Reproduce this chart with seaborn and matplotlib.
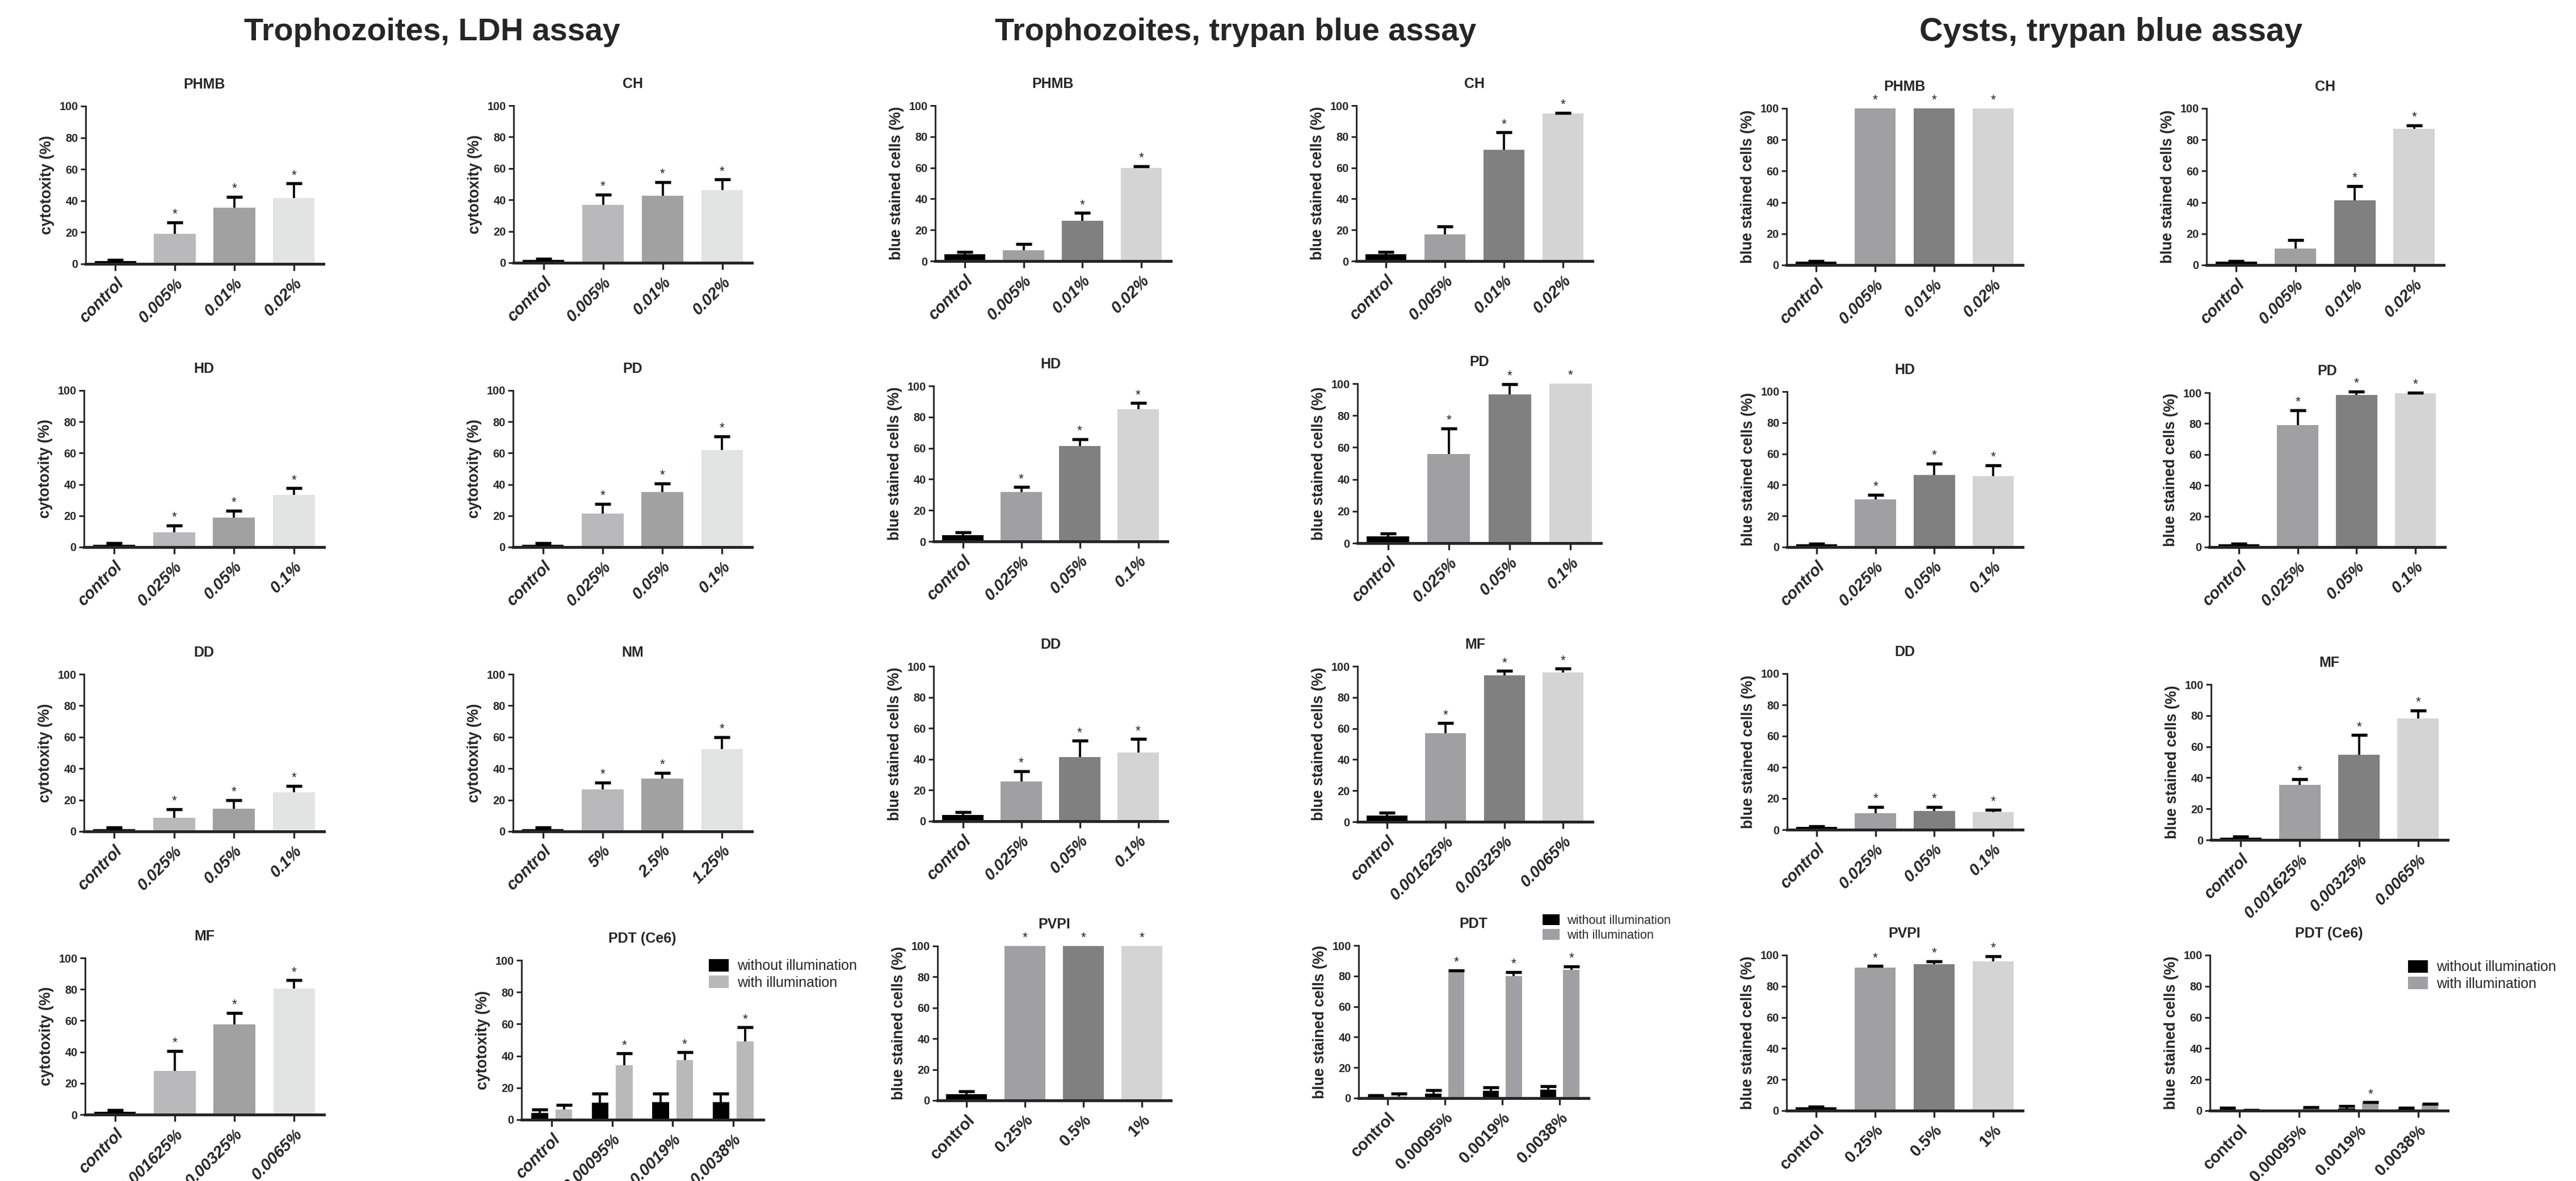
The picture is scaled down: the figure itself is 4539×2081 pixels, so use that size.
import pandas as pd
import matplotlib
matplotlib.use('Agg')
import matplotlib.pyplot as plt
import seaborn as sns
from matplotlib.patches import Patch

# ---------------- data (mean, SD, significance) ----------------
conc_ch = ['control', '0.005%', '0.01%', '0.02%']
conc_diamidine = ['control', '0.025%', '0.05%', '0.1%']
conc_nm = ['control', '5%', '2.5%', '1.25%']
conc_mf = ['control', '0.001625%', '0.00325%', '0.0065%']
conc_pdt = ['control', '0.00095%', '0.0019%', '0.0038%']
conc_pvpi = ['control', '0.25%', '0.5%', '1%']

# Trophozoites, LDH assay
ldh_phmb_mean = [1.7, 19.0, 35.5, 41.9]
ldh_phmb_sd = [0.9, 7.3, 7.0, 9.0]
ldh_phmb_star = [0, 1, 1, 1]
ldh_ch_mean = [1.7, 36.7, 42.7, 46.2]
ldh_ch_sd = [0.9, 6.7, 8.7, 6.8]
ldh_ch_star = [0, 1, 1, 1]
ldh_hd_mean = [1.5, 9.5, 18.9, 33.5]
ldh_hd_sd = [1.0, 4.4, 4.4, 4.1]
ldh_hd_star = [0, 1, 1, 1]
ldh_pd_mean = [1.5, 21.5, 35.3, 62.1]
ldh_pd_sd = [1.0, 6.2, 5.3, 8.6]
ldh_pd_star = [0, 1, 1, 1]
ldh_dd_mean = [1.5, 8.8, 14.5, 24.9]
ldh_dd_sd = [1.0, 5.3, 5.4, 4.0]
ldh_dd_star = [0, 1, 1, 1]
ldh_nm_mean = [1.5, 26.6, 33.5, 52.2]
ldh_nm_sd = [1.0, 4.6, 3.7, 7.8]
ldh_nm_star = [0, 1, 1, 1]
ldh_mf_mean = [1.8, 28.0, 57.6, 80.4]
ldh_mf_sd = [1.0, 12.6, 7.4, 5.4]
ldh_mf_star = [0, 1, 1, 1]
ldh_pdt_dark_mean = [4.4, 10.6, 11.0, 11.2]
ldh_pdt_dark_sd = [2.1, 5.6, 5.2, 5.3]
ldh_pdt_light_mean = [6.5, 34.2, 37.4, 49.2]
ldh_pdt_light_sd = [2.6, 7.4, 4.9, 8.7]
ldh_pdt_star = [0, 1, 1, 1]

# Trophozoites, trypan blue assay
tro_phmb_mean = [4.2, 7.1, 26.0, 59.7]
tro_phmb_sd = [1.6, 3.9, 4.9, 1.3]
tro_phmb_star = [0, 0, 1, 1]
tro_ch_mean = [4.2, 17.2, 71.4, 94.8]
tro_ch_sd = [1.6, 5.2, 11.3, 0.6]
tro_ch_star = [0, 0, 1, 1]
tro_hd_mean = [4.0, 31.9, 61.2, 84.9]
tro_hd_sd = [1.8, 3.0, 4.6, 4.1]
tro_hd_star = [0, 1, 1, 1]
tro_pd_mean = [4.3, 55.7, 93.2, 100.0]
tro_pd_sd = [1.6, 16.3, 6.6, 0.0]
tro_pd_star = [0, 1, 1, 1]
tro_dd_mean = [4.0, 25.7, 41.4, 44.4]
tro_dd_sd = [1.8, 6.5, 10.5, 8.6]
tro_dd_star = [0, 1, 1, 1]
tro_mf_mean = [4.0, 57.1, 94.2, 96.0]
tro_mf_sd = [1.8, 6.3, 2.8, 2.4]
tro_mf_star = [0, 1, 1, 1]
tro_pvpi_mean = [3.9, 100.0, 100.0, 100.0]
tro_pvpi_sd = [1.8, 0.0, 0.0, 0.0]
tro_pvpi_star = [0, 1, 1, 1]
tro_pdt_dark_mean = [1.0, 2.8, 4.7, 5.6]
tro_pdt_dark_sd = [1.0, 2.5, 2.2, 2.2]
tro_pdt_light_mean = [1.2, 82.5, 80.0, 84.1]
tro_pdt_light_sd = [1.6, 1.2, 2.7, 2.3]
tro_pdt_star = [0, 1, 1, 1]

# Cysts, trypan blue assay
cys_phmb_mean = [2.2, 100.0, 100.0, 100.0]
cys_phmb_sd = [0.4, 0.0, 0.0, 0.0]
cys_phmb_star = [0, 1, 1, 1]
cys_ch_mean = [2.2, 10.4, 41.3, 86.8]
cys_ch_sd = [0.4, 5.4, 9.2, 2.4]
cys_ch_star = [0, 0, 1, 1]
cys_hd_mean = [1.8, 30.7, 46.5, 45.6]
cys_hd_sd = [0.5, 3.0, 7.2, 7.0]
cys_hd_star = [0, 1, 1, 1]
cys_pd_mean = [1.8, 79.1, 98.6, 99.5]
cys_pd_sd = [0.5, 9.6, 2.3, 0.5]
cys_pd_star = [0, 1, 1, 1]
cys_dd_mean = [1.8, 10.7, 11.9, 11.4]
cys_dd_sd = [0.5, 4.0, 2.8, 1.4]
cys_dd_star = [0, 1, 1, 1]
cys_mf_mean = [1.6, 35.3, 54.9, 78.1]
cys_mf_sd = [0.5, 3.8, 12.5, 5.2]
cys_mf_star = [0, 1, 1, 1]
cys_pvpi_mean = [2.2, 91.8, 94.2, 96.1]
cys_pvpi_sd = [0.3, 1.2, 1.9, 3.3]
cys_pvpi_star = [0, 1, 1, 1]
cys_pdt_dark_mean = [0.9, 0.0, 1.5, 1.1]
cys_pdt_dark_sd = [0.9, 0.0, 1.4, 0.9]
cys_pdt_light_mean = [0.3, 1.5, 4.8, 3.9]
cys_pdt_light_sd = [0.2, 0.8, 0.6, 0.6]
cys_pdt_star = [0, 0, 1, 0]

legend_labels = ['without illumination', 'with illumination']

# ---------------- style ----------------
ldh_palette = ['#000000', '#b9b9bb', '#a1a1a1', '#e2e3e3']
tb_palette = ['#000000', '#9f9fa3', '#808080', '#d4d4d4']
ldh_gray = '#b9b9b9'
tb_gray = '#a0a0a4'

W, H = 4539, 2081
sns.set_style('ticks')
plt.rcParams['font.family'] = ['Liberation Sans', 'DejaVu Sans']

fig = plt.figure(figsize=(W / 300, H / 300), dpi=300)


def new_axes(left, top, right, bottom):
    # pixel box -> figure fraction
    return fig.add_axes([left / W, 1 - bottom / H, (right - left) / W, (bottom - top) / H])


def add_errors(ax, bars, mean, sd, star):
    for bar, m, s, st in zip(bars, mean, sd, star):
        xc = bar.get_x() + bar.get_width() / 2
        if s > 0:
            eb = ax.errorbar(xc, m, yerr=[[0], [s]], fmt='none', ecolor='black',
                             elinewidth=0.9, capsize=3.3, capthick=1.3, clip_on=False)
            eb[1][0].set_visible(False)
        if st:
            ax.annotate('*', (xc, m + s), xytext=(0, 0.5), textcoords='offset points',
                        ha='center', va='bottom', fontsize=5.5, annotation_clip=False)


def style_axes(ax, title, labels, ylabel, italic):
    sns.despine(ax=ax)
    ax.set_ylim(0, 100)
    ax.set_xlim(-0.5, 3.5)
    ax.set_yticks(range(0, 101, 20))
    ax.set_yticklabels([str(v) for v in range(0, 101, 20)], fontsize=4.8, fontweight='bold')
    ax.set_xticks(range(len(labels)))
    ax.set_xticklabels(labels, rotation=45, ha='right', va='top', rotation_mode='anchor',
                       fontsize=6.9, fontweight='bold',
                       fontstyle='italic' if italic else 'normal')
    ax.tick_params(axis='y', length=2.2, width=0.7, pad=1)
    ax.tick_params(axis='x', length=2.8, width=0.8, pad=2)
    ax.spines['left'].set_linewidth(0.7)
    ax.spines['bottom'].set_linewidth(1.2)
    ax.set_xlabel('')
    ax.set_ylabel(ylabel, fontsize=6.4, fontweight='bold', labelpad=2)
    ax.set_title(title, fontsize=6, fontweight='bold', pad=7.5)


def draw_panel(box, title, labels, mean, sd, star, palette, ylabel, italic=True):
    ax = new_axes(*box)
    df = pd.DataFrame({'conc': labels, 'value': mean})
    sns.barplot(data=df, x='conc', y='value', hue='conc', palette=palette, width=0.7,
                errorbar=None, legend=False, linewidth=0, ax=ax)
    bars = sorted(ax.patches, key=lambda p: p.get_x())
    add_errors(ax, bars, mean, sd, star)
    style_axes(ax, title, labels, ylabel, italic)
    return ax


def draw_pdt(box, title, labels, dark_mean, dark_sd, light_mean, light_sd, star,
             gray, ylabel, italic, leg_xy, leg_size):
    ax = new_axes(*box)
    df = pd.DataFrame({'conc': labels * 2,
                       'value': dark_mean + light_mean,
                       'light': [legend_labels[0]] * 4 + [legend_labels[1]] * 4})
    sns.barplot(data=df, x='conc', y='value', hue='light', palette=['#000000', gray],
                width=0.8, gap=0.3, errorbar=None, legend=False, linewidth=0, ax=ax)
    add_errors(ax, list(ax.containers[0]), dark_mean, dark_sd, [0] * 4)
    add_errors(ax, list(ax.containers[1]), light_mean, light_sd, star)
    style_axes(ax, title, labels, ylabel, italic)
    handles = [Patch(facecolor='#000000', edgecolor='none'), Patch(facecolor=gray, edgecolor='none')]
    ax.legend(handles, legend_labels, loc='upper left',
              bbox_to_anchor=(leg_xy[0] / W, 1 - leg_xy[1] / H), bbox_transform=fig.transFigure,
              frameon=False, fontsize=leg_size, handlelength=1.4, handleheight=0.95,
              handletextpad=0.6, labelspacing=0.2, borderpad=0, borderaxespad=0)
    return ax


ylab_ldh = 'cytotoxity (%)'
ylab_tb = 'blue stained cells (%)'

# Trophozoites, LDH assay
draw_panel((151, 187, 570, 465), 'PHMB', conc_ch, ldh_phmb_mean, ldh_phmb_sd, ldh_phmb_star, ldh_palette, ylab_ldh)
draw_panel((905, 186, 1325, 463), 'CH', conc_ch, ldh_ch_mean, ldh_ch_sd, ldh_ch_star, ldh_palette, ylab_ldh)
draw_panel((148, 688, 571, 964), 'HD', conc_diamidine, ldh_hd_mean, ldh_hd_sd, ldh_hd_star, ldh_palette, ylab_ldh)
draw_panel((904, 688, 1325, 964), 'PD', conc_diamidine, ldh_pd_mean, ldh_pd_sd, ldh_pd_star, ldh_palette, ylab_ldh)
draw_panel((148, 1188, 571, 1465), 'DD', conc_diamidine, ldh_dd_mean, ldh_dd_sd, ldh_dd_star, ldh_palette, ylab_ldh)
draw_panel((904, 1188, 1325, 1465), 'NM', conc_nm, ldh_nm_mean, ldh_nm_sd, ldh_nm_star, ldh_palette, ylab_ldh)
draw_panel((150, 1688, 571, 1964), 'MF', conc_mf, ldh_mf_mean, ldh_mf_sd, ldh_mf_star, ldh_palette, ylab_ldh)
draw_pdt((919, 1692, 1345, 1973), 'PDT (Ce6)', conc_pdt, ldh_pdt_dark_mean, ldh_pdt_dark_sd,
         ldh_pdt_light_mean, ldh_pdt_light_sd, ldh_pdt_star, ldh_gray, ylab_ldh, True, (1249, 1690), 6)

# Trophozoites, trypan blue assay
draw_panel((1648, 186, 2063, 460), 'PHMB', conc_ch, tro_phmb_mean, tro_phmb_sd, tro_phmb_star, tb_palette, ylab_tb)
draw_panel((2390, 186, 2806, 460), 'CH', conc_ch, tro_ch_mean, tro_ch_sd, tro_ch_star, tb_palette, ylab_tb)
draw_panel((1645, 680, 2057, 954), 'HD', conc_diamidine, tro_hd_mean, tro_hd_sd, tro_hd_star, tb_palette, ylab_tb)
draw_panel((2392, 676, 2821, 957), 'PD', conc_diamidine, tro_pd_mean, tro_pd_sd, tro_pd_star, tb_palette, ylab_tb)
draw_panel((1645, 1174, 2057, 1447), 'DD', conc_diamidine, tro_dd_mean, tro_dd_sd, tro_dd_star, tb_palette, ylab_tb)
draw_panel((2392, 1174, 2806, 1448), 'MF', conc_mf, tro_mf_mean, tro_mf_sd, tro_mf_star, tb_palette, ylab_tb)
draw_panel((1652, 1667, 2063, 1939), 'PVPI', conc_pvpi, tro_pvpi_mean, tro_pvpi_sd, tro_pvpi_star, tb_palette, ylab_tb, italic=False)
draw_pdt((2394, 1666, 2799, 1935), 'PDT', conc_pdt, tro_pdt_dark_mean, tro_pdt_dark_sd,
         tro_pdt_light_mean, tro_pdt_light_sd, tro_pdt_star, tb_gray, ylab_tb, False, (2718, 1611), 5.2)

# Cysts, trypan blue assay
draw_panel((3148, 191, 3564, 467), 'PHMB', conc_ch, cys_phmb_mean, cys_phmb_sd, cys_phmb_star, tb_palette, ylab_tb)
draw_panel((3888, 191, 4306, 467), 'CH', conc_ch, cys_ch_mean, cys_ch_sd, cys_ch_star, tb_palette, ylab_tb)
draw_panel((3149, 690, 3564, 964), 'HD', conc_diamidine, cys_hd_mean, cys_hd_sd, cys_hd_star, tb_palette, ylab_tb)
draw_panel((3893, 692, 4308, 964), 'PD', conc_diamidine, cys_pd_mean, cys_pd_sd, cys_pd_star, tb_palette, ylab_tb)
draw_panel((3149, 1187, 3564, 1462), 'DD', conc_diamidine, cys_dd_mean, cys_dd_sd, cys_dd_star, tb_palette, ylab_tb)
draw_panel((3896, 1206, 4313, 1480), 'MF', conc_mf, cys_mf_mean, cys_mf_sd, cys_mf_star, tb_palette, ylab_tb)
draw_panel((3148, 1683, 3564, 1957), 'PVPI', conc_pvpi, cys_pvpi_mean, cys_pvpi_sd, cys_pvpi_star, tb_palette, ylab_tb, italic=False)
draw_pdt((3894, 1683, 4313, 1957), 'PDT (Ce6)', conc_pdt, cys_pdt_dark_mean, cys_pdt_dark_sd,
         cys_pdt_light_mean, cys_pdt_light_sd, cys_pdt_star, tb_gray, ylab_tb, False, (4243, 1692), 6)

# group headings
fig.text(761 / W, 1 - 57 / H, 'Trophozoites, LDH assay', ha='center', va='center', fontsize=13.4, fontweight='bold')
fig.text(2177 / W, 1 - 57 / H, 'Trophozoites, trypan blue assay', ha='center', va='center', fontsize=13.4, fontweight='bold')
fig.text(3720 / W, 1 - 57 / H, 'Cysts, trypan blue assay', ha='center', va='center', fontsize=13.8, fontweight='bold')

fig.savefig('out.png', dpi=300)
